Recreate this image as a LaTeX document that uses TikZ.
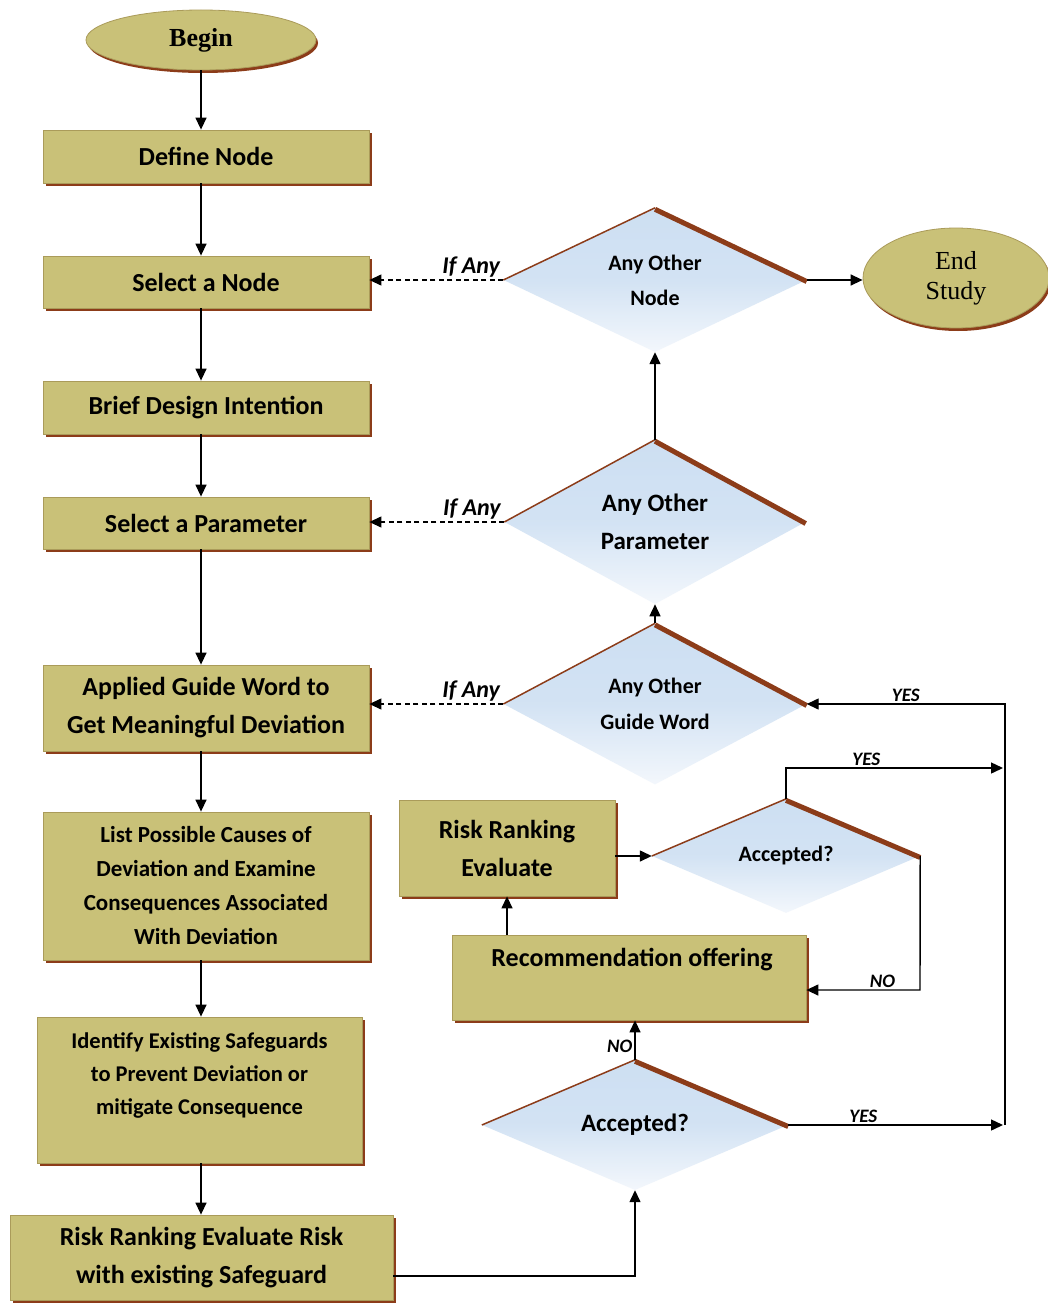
\documentclass[tikz,border=0pt]{standalone}
\usepackage{fontspec}
\setmainfont{Carlito}
\newfontfamily\cambria{Liberation Serif}
\usetikzlibrary{shapes.geometric,arrows.meta,shadows}
\definecolor{olivefill}{RGB}{201,193,120}
\definecolor{oliveline}{RGB}{170,155,90}
\definecolor{brownsh}{RGB}{140,60,25}
\definecolor{dblue}{RGB}{205,223,242}
\definecolor{dbluelight}{RGB}{243,247,252}
\begin{document}
\begin{tikzpicture}[x=1pt,y=-1pt,
  box/.style={rectangle, fill=olivefill, draw=oliveline, line width=0.8pt, inner sep=0pt, align=center,
    font=\bfseries\fontsize{26}{38}\selectfont,
    drop shadow={shadow xshift=2.5pt, shadow yshift=-3pt, fill=brownsh, opacity=1}},
  term/.style={ellipse, fill=olivefill, draw=oliveline, line width=0.8pt, inner sep=0pt, align=center,
    drop shadow={shadow xshift=2pt, shadow yshift=-3pt, fill=brownsh, opacity=1}},
  dia/.style={diamond, inner sep=0pt, align=center, top color=dblue, bottom color=dbluelight,
    middle color=dblue!85!dbluelight, font=\bfseries\fontsize{22}{35}\selectfont},
  thinedge/.style={brownsh, line width=1.5pt},
  thickedge/.style={brownsh, line width=5pt},
  arr/.style={line width=1.4pt, -{Triangle[length=12pt,width=11pt]}},
  ifany/.style={line width=1.2pt, dash pattern=on 5pt off 3.5pt, -{Triangle[length=12pt,width=11pt]}},
  lab/.style={font=\bfseries\itshape\fontsize{24}{24}\selectfont, inner sep=2pt},
  yn/.style={font=\bfseries\itshape\fontsize{19}{19}\selectfont, inner sep=2pt},
  txt/.style={align=center, inner sep=0pt},
]
\fill[white] (0,0) rectangle (1048,1303);
\useasboundingbox (0,0) rectangle (1048,1303);

% terminals
\node[term, font=\cambria\bfseries\fontsize{26}{30}\selectfont, minimum width=230pt, minimum height=60pt] (begin) at (201,40) {Begin};
\node[term, font=\cambria\fontsize{26}{30}\selectfont, minimum width=186pt, minimum height=100pt] (endst) at (956,278) {End\\Study};

% left column
\node[box, minimum width=326pt, minimum height=53pt] (define) at (206,156.5) {Define Node};
\node[box, minimum width=326pt, minimum height=52pt] (selnode) at (206,282) {Select a Node};
\node[box, minimum width=326pt, minimum height=53pt] (brief) at (206,407.5) {Brief Design Intention};
\node[box, minimum width=326pt, minimum height=52pt] (selparam) at (206,523) {Select a Parameter};
\node[box, minimum width=326pt, minimum height=86pt] (applied) at (206,708) {Applied Guide Word to\\Get Meaningful Deviation};
\node[box, minimum width=326pt, minimum height=148pt, font=\bfseries\fontsize{23}{34}\selectfont] (list) at (206,886)
  {List Possible Causes of\\Deviation and Examine\\Consequences Associated\\With Deviation};
\node[box, minimum width=325pt, minimum height=146pt] (identify) at (199.5,1090) {};
\node[txt, font=\bfseries\fontsize{22.5}{33}\selectfont] (identifyt) at (199.5,1075)
  {Identify Existing Safeguards\\to Prevent Deviation or\\mitigate Consequence};
\node[box, minimum width=383pt, minimum height=85pt] (rr) at (201.5,1257.5) {Risk Ranking Evaluate Risk\\with existing Safeguard};

% right side boxes
\node[box, minimum width=216pt, minimum height=96pt] (rre) at (507,848) {Risk Ranking\\Evaluate};
\node[box, minimum width=354pt, minimum height=85pt] (rec) at (629,977.5) {};
\node[txt, font=\bfseries\fontsize{26}{38}\selectfont] (rect) at (632,960) {Recommendation offering};

% diamonds
\node[dia, minimum width=303pt, minimum height=144pt] (dnode) at (655,280) {Any Other\\Node};
\node[dia, minimum width=301pt, minimum height=144pt, font=\bfseries\fontsize{25}{38}\selectfont] (dparam) at (655,522) {Any Other\\Parameter};
\node[dia, minimum width=303pt, minimum height=140pt, font=\bfseries\fontsize{22}{36}\selectfont] (dguide) at (655,704) {Any Other\\Guide Word};
\node[dia, minimum width=268pt, minimum height=102pt] (dacc1) at (786,856) {Accepted?};
\node[dia, minimum width=306pt, minimum height=130pt, font=\bfseries\fontsize{25}{30}\selectfont] (dacc2) at (635,1125) {Accepted?};

\foreach \d in {dnode,dparam,dguide,dacc1,dacc2}{
  \draw[thinedge] (\d.west) -- (\d.north);
  \draw[thickedge] ([yshift=-1.5pt]\d.north) -- ([yshift=-1.5pt]\d.east);
}

% rail coordinates
\coordinate (railtop) at (1005,704);
\coordinate (railbot) at (1005,1125);
\coordinate (yes1) at (1003,768);
\coordinate (no1) at (920,990);

% main column arrows
\draw[arr] (begin.south) -- (define.north -| begin.south);
\draw[arr] (define.south -| begin.south) -- (selnode.north -| begin.south);
\draw[arr] (selnode.south -| begin.south) -- (brief.north -| begin.south);
\draw[arr] (brief.south -| begin.south) -- (selparam.north -| begin.south);
\draw[arr] (selparam.south -| begin.south) -- (applied.north -| begin.south);
\draw[arr] (applied.south -| begin.south) -- (list.north -| begin.south);
\draw[arr] (list.south -| begin.south) -- (identify.north -| begin.south);
\draw[arr] (identify.south -| begin.south) -- (rr.north -| begin.south);

% dashed returns
\draw[ifany] (dnode.west) -- node[lab, above, pos=0.24] {If Any} (dnode.west -| selnode.east);
\draw[ifany] (dparam.west) -- node[lab, above, pos=0.24] {If Any} (dparam.west -| selparam.east);
\draw[ifany] (dguide.west) -- node[lab, above, pos=0.24] {If Any} (dguide.west -| applied.east);

% right column
\draw[arr] (dnode.east) -- (dnode.east -| endst.west);
\draw[arr] (dparam.north) -- (dparam.north |- dnode.south);
\draw[arr] (dguide.north) -- (dguide.north |- dparam.south);
\draw[arr] (dacc1.west -| rre.east) -- (dacc1.west);
\draw[arr] (dacc1.north) -- (dacc1.north |- yes1) -- node[yn, above, pos=0.37] {YES} (yes1);
\draw[arr] (dacc1.east) -- (no1) -- node[yn, above, pos=0.33] {NO} (no1 -| rec.east);
\draw[arr] (rre.south |- rec.north) -- (rre.south);
\draw[arr] (dacc2.north) -- node[yn, left, pos=0.33] {NO} (dacc2.north |- rec.south);
\draw[arr] (dacc2.east) -- node[yn, above, pos=0.35] {YES} (railbot -| yes1);
\draw[arr] (railbot) -- (railtop) -- node[yn, above, pos=0.5] {YES} (dguide.east);
\draw[arr] ([yshift=-18.5pt]rr.east) -| (dacc2.south);
\end{tikzpicture}
\end{document}
